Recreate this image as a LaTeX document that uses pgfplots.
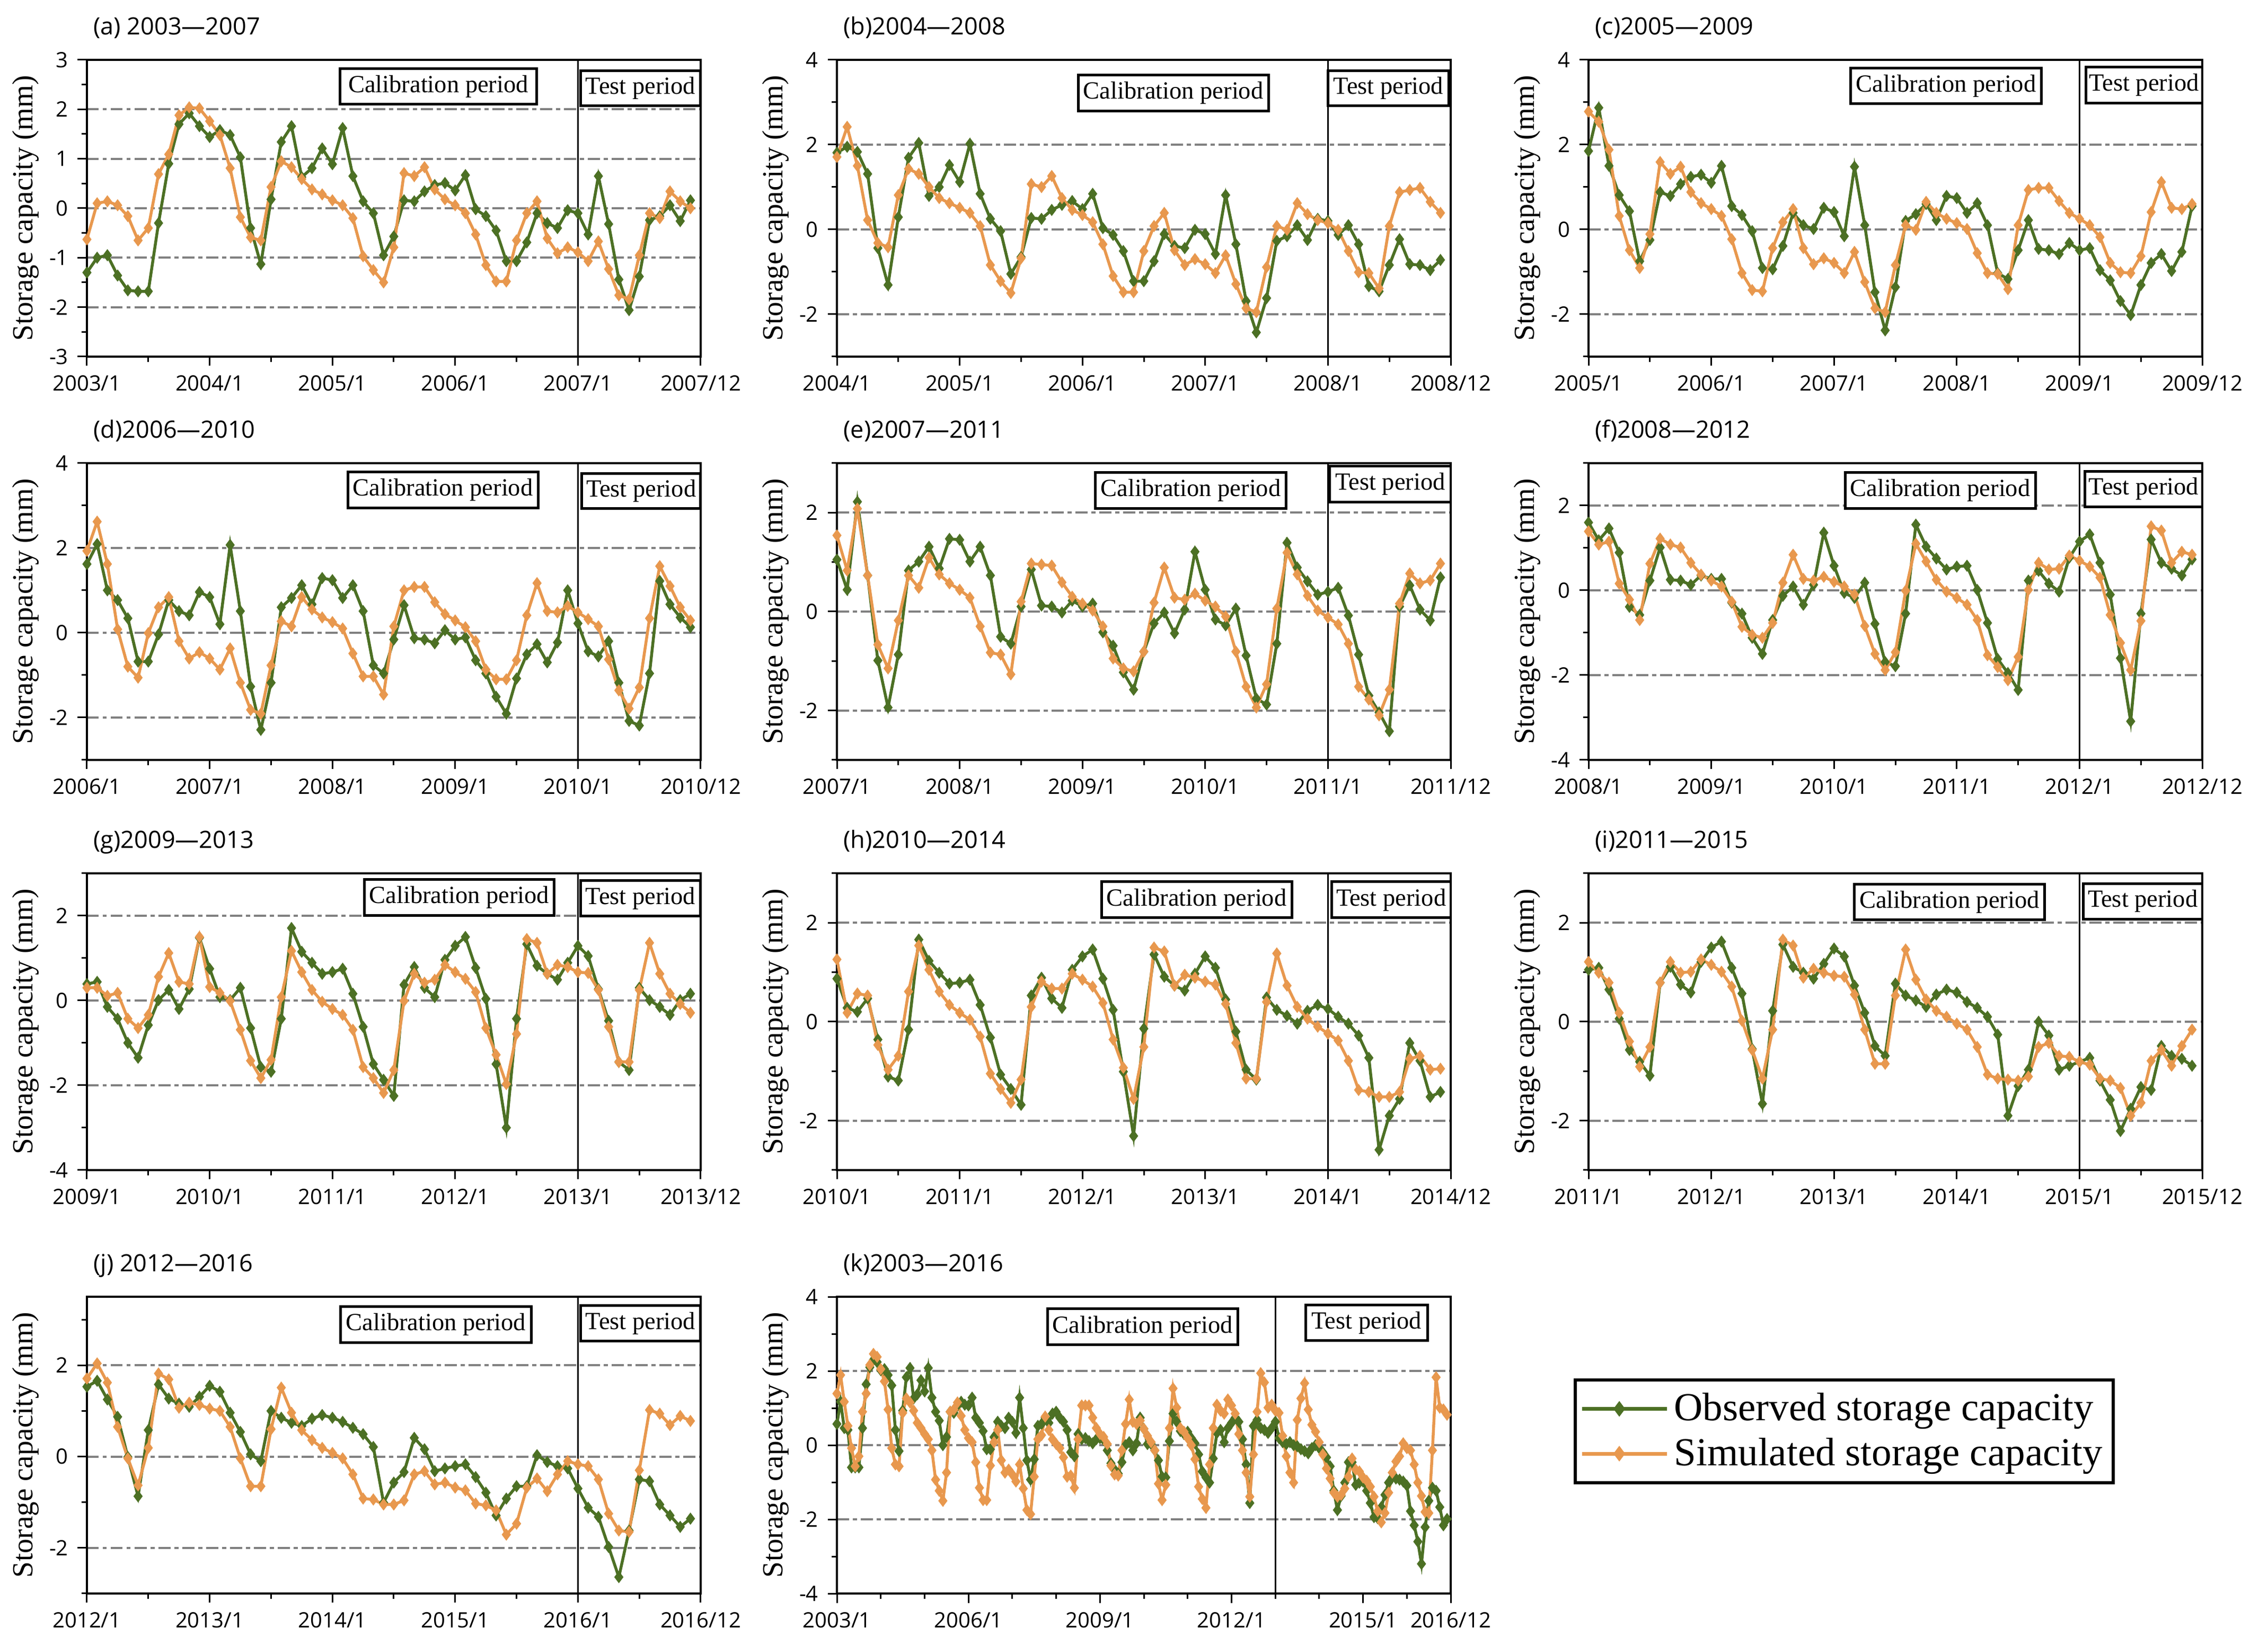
\documentclass[border=0pt]{standalone}
\usepackage{fontspec}
\setmainfont{Liberation Serif}
\newfontfamily\tickfont{Open Sans}
\usepackage{pgfplots}
\usepackage{pgfplotstable}
\pgfplotsset{compat=1.18}
\usetikzlibrary{calc}
\definecolor{obs}{RGB}{76,112,36}
\definecolor{sim}{RGB}{232,152,78}

\pgfplotstableread[row sep=\\]{o s\\
-1.30 -0.63\\ -1.00 0.10\\ -0.95 0.14\\ -1.36 0.06\\ -1.66 -0.16\\ -1.68 -0.65\\
-1.68 -0.40\\ -0.30 0.69\\ 0.90 1.09\\ 1.70 1.88\\ 1.92 2.04\\ 1.66 2.02\\
1.44 1.76\\ 1.58 1.48\\ 1.48 0.81\\ 1.03 -0.18\\ -0.40 -0.59\\ -1.13 -0.65\\
0.18 0.43\\ 1.34 0.95\\ 1.66 0.83\\ 0.63 0.59\\ 0.81 0.38\\ 1.21 0.28\\
0.89 0.16\\ 1.62 0.06\\ 0.65 -0.20\\ 0.14 -0.97\\ -0.10 -1.25\\ -0.95 -1.50\\
-0.57 -0.79\\ 0.16 0.71\\ 0.14 0.65\\ 0.34 0.83\\ 0.47 0.38\\ 0.51 0.18\\
0.36 0.06\\ 0.67 -0.10\\ -0.02 -0.53\\ -0.16 -1.15\\ -0.45 -1.48\\ -1.07 -1.48\\
-1.07 -0.65\\ -0.69 -0.10\\ -0.10 0.14\\ -0.30 -0.61\\ -0.40 -0.91\\ -0.04 -0.79\\
-0.10 -0.89\\ -0.53 -1.07\\ 0.65 -0.67\\ -0.32 -1.23\\ -1.44 -1.76\\ -2.06 -1.84\\
-1.38 -0.95\\ -0.24 -0.10\\ -0.16 -0.20\\ 0.06 0.34\\ -0.26 0.14\\ 0.16 0.00\\
}\tabA

\pgfplotstableread[row sep=\\]{o s\\
1.81 1.71\\ 1.95 2.42\\ 1.83 1.50\\ 1.31 0.22\\ -0.44 -0.32\\ -1.31 -0.42\\
0.29 0.81\\ 1.69 1.43\\ 2.04 1.31\\ 0.79 1.00\\ 1.00 0.74\\ 1.52 0.62\\
1.12 0.51\\ 2.02 0.39\\ 0.84 0.08\\ 0.25 -0.84\\ -0.04 -1.22\\ -1.05 -1.50\\
-0.65 -0.68\\ 0.27 1.07\\ 0.25 1.00\\ 0.46 1.26\\ 0.58 0.74\\ 0.67 0.46\\
0.48 0.34\\ 0.84 0.17\\ 0.03 -0.35\\ -0.13 -1.10\\ -0.51 -1.48\\ -1.22 -1.48\\
-1.22 -0.51\\ -0.75 0.08\\ -0.11 0.39\\ -0.39 -0.49\\ -0.44 -0.84\\ -0.01 -0.70\\
-0.11 -0.82\\ -0.58 -1.03\\ 0.81 -0.61\\ -0.35 -1.29\\ -1.69 -1.86\\ -2.43 -1.95\\
-1.62 -0.89\\ -0.27 0.08\\ -0.16 -0.01\\ 0.10 0.62\\ -0.25 0.36\\ 0.25 0.22\\
0.20 0.15\\ -0.13 -0.01\\ 0.10 -0.51\\ -0.35 -1.01\\ -1.34 -1.03\\ -1.46 -1.39\\
-0.84 0.08\\ -0.23 0.88\\ -0.82 0.93\\ -0.84 0.98\\ -0.96 0.65\\ -0.72 0.39\\
}\tabB

\pgfplotstableread[row sep=\\]{o s\\
1.85 2.78\\ 2.87 2.54\\ 1.50 1.88\\ 0.81 0.32\\ 0.43 -0.49\\ -0.75 -0.91\\
-0.25 -0.11\\ 0.88 1.59\\ 0.79 1.31\\ 1.07 1.48\\ 1.24 0.88\\ 1.29 0.62\\
1.10 0.48\\ 1.50 0.32\\ 0.55 -0.23\\ 0.34 -1.03\\ -0.04 -1.43\\ -0.91 -1.46\\
-0.94 -0.44\\ -0.39 0.17\\ 0.39 0.48\\ 0.10 -0.44\\ 0.01 -0.82\\ 0.51 -0.68\\
0.41 -0.79\\ -0.16 -1.03\\ 1.48 -0.53\\ 0.10 -1.24\\ -1.48 -1.86\\ -2.38 -1.95\\
-1.36 -0.84\\ 0.20 0.10\\ 0.36 -0.01\\ 0.60 0.65\\ 0.22 0.39\\ 0.79 0.25\\
0.74 0.15\\ 0.39 0.01\\ 0.62 -0.56\\ 0.10 -1.03\\ -1.03 -1.05\\ -1.17 -1.41\\
-0.49 0.10\\ 0.22 0.93\\ -0.46 0.98\\ -0.49 0.98\\ -0.58 0.67\\ -0.32 0.39\\
-0.49 0.25\\ -0.44 0.10\\ -0.96 -0.18\\ -1.20 -0.79\\ -1.69 -1.01\\ -2.02 -1.03\\
-1.31 -0.63\\ -0.79 0.41\\ -0.58 1.12\\ -0.98 0.51\\ -0.53 0.48\\ 0.55 0.60\\
}\tabC

\pgfplotstableread[row sep=\\]{o s\\
1.62 1.93\\ 2.09 2.62\\ 1.00 1.62\\ 0.77 0.08\\ 0.34 -0.80\\ -0.68 -1.06\\
-0.68 -0.01\\ -0.04 0.60\\ 0.77 0.84\\ 0.51 -0.20\\ 0.41 -0.61\\ 0.96 -0.46\\
0.84 -0.61\\ 0.20 -0.87\\ 2.07 -0.37\\ 0.51 -1.18\\ -1.27 -1.82\\ -2.29 -1.91\\
-1.18 -0.77\\ 0.60 0.27\\ 0.82 0.15\\ 1.12 0.84\\ 0.67 0.55\\ 1.29 0.36\\
1.24 0.25\\ 0.82 0.10\\ 1.12 -0.49\\ 0.51 -1.03\\ -0.77 -1.03\\ -0.96 -1.46\\
-0.16 0.15\\ 0.65 1.00\\ -0.13 1.08\\ -0.16 1.08\\ -0.25 0.72\\ 0.06 0.44\\
-0.16 0.29\\ -0.11 0.13\\ -0.65 -0.20\\ -0.96 -0.87\\ -1.51 -1.10\\ -1.91 -1.10\\
-1.08 -0.65\\ -0.51 0.41\\ -0.27 1.17\\ -0.70 0.51\\ -0.23 0.48\\ 1.00 0.63\\
0.22 0.48\\ -0.44 0.32\\ -0.56 0.15\\ -0.20 -0.63\\ -1.18 -1.36\\ -2.08 -1.79\\
-2.19 -1.29\\ -0.96 0.34\\ 1.22 1.57\\ 0.67 1.10\\ 0.36 0.60\\ 0.13 0.29\\
}\tabD

\pgfplotstableread[row sep=\\]{o s\\
1.05 1.54\\ 0.44 0.83\\ 2.22 2.08\\ 0.73 0.73\\ -0.99 -0.67\\ -1.94 -1.15\\
-0.87 -0.18\\ 0.83 0.73\\ 1.01 0.48\\ 1.31 1.09\\ 0.87 0.75\\ 1.47 0.57\\
1.45 0.44\\ 1.01 0.28\\ 1.31 -0.30\\ 0.73 -0.83\\ -0.51 -0.87\\ -0.65 -1.27\\
0.10 0.20\\ 0.85 0.97\\ 0.12 0.95\\ 0.10 0.93\\ -0.02 0.59\\ 0.22 0.30\\
0.10 0.16\\ 0.16 0.02\\ -0.42 -0.30\\ -0.69 -0.95\\ -1.23 -1.15\\ -1.58 -1.21\\
-0.81 -0.81\\ -0.24 0.18\\ -0.02 0.89\\ -0.44 0.28\\ 0.04 0.24\\ 1.21 0.36\\
0.44 0.22\\ -0.16 0.10\\ -0.28 -0.10\\ 0.06 -0.81\\ -0.89 -1.52\\ -1.76 -1.94\\
-1.88 -1.47\\ -0.65 0.06\\ 1.39 1.19\\ 0.89 0.75\\ 0.61 0.32\\ 0.34 0.02\\
0.40 -0.12\\ 0.48 -0.26\\ -0.08 -0.65\\ -0.87 -1.52\\ -1.70 -1.78\\ -2.04 -2.10\\
-2.42 -1.58\\ 0.10 0.16\\ 0.53 0.77\\ 0.04 0.57\\ -0.18 0.63\\ 0.69 0.97\\
}\tabE

\pgfplotstableread[row sep=\\]{o s\\
1.60 1.39\\ 1.18 1.08\\ 1.46 1.15\\ 0.89 0.16\\ -0.39 -0.22\\ -0.58 -0.70\\
0.23 0.63\\ 1.01 1.22\\ 0.25 1.08\\ 0.23 1.01\\ 0.13 0.65\\ 0.35 0.37\\
0.27 0.23\\ 0.27 0.09\\ -0.29 -0.27\\ -0.55 -0.86\\ -1.12 -1.05\\ -1.50 -1.12\\
-0.70 -0.77\\ -0.13 0.18\\ 0.09 0.84\\ -0.34 0.27\\ 0.13 0.23\\ 1.36 0.32\\
0.58 0.20\\ -0.06 0.09\\ -0.18 -0.10\\ 0.18 -0.84\\ -0.79 -1.50\\ -1.69 -1.88\\
-1.79 -1.46\\ -0.55 -0.01\\ 1.55 1.10\\ 1.03 0.68\\ 0.75 0.25\\ 0.49 -0.03\\
0.56 -0.18\\ 0.58 -0.34\\ 0.01 -0.70\\ -0.77 -1.53\\ -1.62 -1.81\\ -1.95 -2.12\\
-2.35 -1.57\\ 0.23 0.01\\ 0.46 0.65\\ 0.16 0.49\\ -0.03 0.51\\ 0.77 0.82\\
1.15 0.70\\ 1.32 0.56\\ 0.65 0.30\\ -0.10 -0.58\\ -1.60 -1.24\\ -3.09 -1.88\\
-0.55 -0.72\\ 1.20 1.51\\ 0.65 1.41\\ 0.51 0.65\\ 0.35 0.91\\ 0.73 0.84\\
}\tabF

\pgfplotstableread[row sep=\\]{o s\\
0.39 0.30\\ 0.44 0.30\\ -0.15 0.11\\ -0.43 0.18\\ -1.00 -0.43\\ -1.35 -0.65\\
-0.58 -0.34\\ 0.01 0.56\\ 0.25 1.12\\ -0.20 0.44\\ 0.27 0.39\\ 1.48 1.50\\
0.75 0.32\\ 0.08 0.18\\ 0.01 -0.01\\ 0.30 -0.69\\ -0.65 -1.42\\ -1.57 -1.83\\
-1.68 -1.40\\ -0.43 0.08\\ 1.71 1.17\\ 1.15 0.67\\ 0.89 0.25\\ 0.63 -0.03\\
0.67 -0.20\\ 0.75 -0.34\\ 0.16 -0.69\\ -0.62 -1.57\\ -1.50 -1.83\\ -1.87 -2.18\\
-2.25 -1.64\\ 0.37 -0.01\\ 0.79 0.63\\ 0.30 0.42\\ 0.08 0.49\\ 0.96 0.84\\
1.29 0.67\\ 1.50 0.51\\ 0.77 0.20\\ 0.04 -0.65\\ -1.50 -1.28\\ -3.00 -1.97\\
-0.43 -0.79\\ 1.33 1.45\\ 0.82 1.36\\ 0.63 0.63\\ 0.49 0.84\\ 0.89 0.79\\
1.29 0.67\\ 1.05 0.65\\ 0.27 0.25\\ -0.48 -0.62\\ -1.45 -1.45\\ -1.64 -1.45\\
0.30 0.25\\ 0.01 1.36\\ -0.15 0.63\\ -0.34 0.16\\ 0.01 -0.08\\ 0.16 -0.29\\
}\tabG

\pgfplotstableread[row sep=\\]{o s\\
0.87 1.26\\ 0.28 0.18\\ 0.20 0.57\\ 0.47 0.53\\ -0.36 -0.47\\ -1.11 -0.97\\
-1.19 -0.69\\ -0.16 0.61\\ 1.66 1.54\\ 1.23 1.05\\ 0.99 0.61\\ 0.77 0.34\\
0.79 0.18\\ 0.85 0.04\\ 0.34 -0.30\\ -0.32 -1.05\\ -1.07 -1.36\\ -1.36 -1.64\\
-1.68 -1.17\\ 0.53 0.30\\ 0.89 0.81\\ 0.47 0.67\\ 0.28 0.67\\ 1.05 0.97\\
1.32 0.85\\ 1.46 0.71\\ 0.87 0.38\\ 0.24 -0.36\\ -1.01 -0.93\\ -2.31 -1.56\\
-0.14 -0.51\\ 1.36 1.50\\ 0.91 1.42\\ 0.73 0.73\\ 0.63 0.95\\ 0.97 0.89\\
1.32 0.81\\ 1.09 0.75\\ 0.45 0.36\\ -0.20 -0.43\\ -0.97 -1.15\\ -1.17 -1.15\\
0.49 0.40\\ 0.24 1.38\\ 0.12 0.73\\ -0.04 0.30\\ 0.22 0.06\\ 0.34 -0.10\\
0.26 -0.24\\ 0.10 -0.38\\ -0.04 -0.79\\ -0.28 -1.38\\ -0.73 -1.42\\ -2.59 -1.52\\
-1.90 -1.52\\ -1.56 -1.42\\ -0.43 -0.75\\ -0.79 -0.69\\ -1.52 -0.97\\ -1.42 -0.95\\
}\tabH

\pgfplotstableread[row sep=\\]{o s\\
1.05 1.21\\ 1.09 0.99\\ 0.65 0.79\\ 0.06 0.18\\ -0.57 -0.40\\ -0.81 -0.91\\
-1.09 -0.51\\ 0.79 0.79\\ 1.11 1.21\\ 0.75 0.99\\ 0.59 1.01\\ 1.21 1.26\\
1.50 1.15\\ 1.62 1.01\\ 1.09 0.71\\ 0.57 0.02\\ -0.55 -0.57\\ -1.66 -1.15\\
0.22 -0.16\\ 1.56 1.66\\ 1.11 1.54\\ 0.99 0.89\\ 0.87 1.07\\ 1.17 0.99\\
1.48 0.93\\ 1.32 0.91\\ 0.73 0.55\\ 0.18 -0.16\\ -0.49 -0.85\\ -0.69 -0.85\\
0.77 0.53\\ 0.53 1.46\\ 0.43 0.85\\ 0.30 0.45\\ 0.55 0.22\\ 0.65 0.10\\
0.59 -0.04\\ 0.40 -0.16\\ 0.28 -0.51\\ 0.10 -1.07\\ -0.26 -1.15\\ -1.90 -1.17\\
-1.30 -1.19\\ -0.97 -1.11\\ 0.00 -0.51\\ -0.28 -0.43\\ -0.97 -0.69\\ -0.89 -0.71\\
-0.81 -0.81\\ -0.73 -0.87\\ -1.19 -1.15\\ -1.58 -1.19\\ -2.21 -1.34\\ -1.76 -1.90\\
-1.32 -1.64\\ -1.38 -0.79\\ -0.49 -0.57\\ -0.69 -0.89\\ -0.75 -0.49\\ -0.89 -0.16\\
}\tabI

\pgfplotstableread[row sep=\\]{o s\\
1.53 1.71\\ 1.66 2.04\\ 1.25 1.62\\ 0.87 0.65\\ -0.01 -0.04\\ -0.87 -0.63\\
0.58 0.19\\ 1.58 1.82\\ 1.27 1.69\\ 1.16 1.07\\ 1.09 1.18\\ 1.31 1.13\\
1.55 1.05\\ 1.42 1.00\\ 0.96 0.65\\ 0.54 -0.04\\ 0.05 -0.65\\ -0.10 -0.65\\
1.00 0.60\\ 0.85 1.51\\ 0.74 0.96\\ 0.67 0.58\\ 0.83 0.36\\ 0.91 0.19\\
0.85 0.08\\ 0.76 -0.04\\ 0.63 -0.39\\ 0.49 -0.92\\ 0.21 -0.94\\ -1.01 -1.05\\
-0.57 -1.05\\ -0.34 -0.96\\ 0.41 -0.39\\ 0.16 -0.32\\ -0.32 -0.61\\ -0.26 -0.57\\
-0.21 -0.68\\ -0.17 -0.74\\ -0.45 -1.03\\ -0.79 -1.07\\ -1.29 -1.18\\ -0.92 -1.71\\
-0.65 -1.47\\ -0.65 -0.68\\ 0.03 -0.48\\ -0.12 -0.76\\ -0.21 -0.39\\ -0.26 -0.10\\
-0.70 -0.17\\ -1.12 -0.21\\ -1.32 -0.50\\ -1.98 -1.25\\ -2.64 -1.62\\ -1.62 -1.65\\
-0.50 -0.30\\ -0.54 1.02\\ -1.05 0.94\\ -1.29 0.69\\ -1.54 0.89\\ -1.36 0.78\\
}\tabJ

\pgfplotstableread[row sep=\\]{o s\\
0.57 1.39\\ 1.17 1.89\\ 0.46 1.17\\ 0.41 0.52\\ -0.60 -0.08\\ -0.60 -0.57\\
-0.60 -0.30\\ 0.46 0.90\\ 1.64 1.39\\ 2.10 2.16\\ 2.30 2.46\\ 2.24 2.38\\
2.02 2.05\\ 2.05 1.72\\ 1.89 0.96\\ 1.61 -0.08\\ 0.41 -0.52\\ -0.16 -0.57\\
0.93 0.87\\ 1.83 1.26\\ 2.08 1.15\\ 1.26 0.93\\ 1.37 0.60\\ 1.75 0.46\\
1.45 0.30\\ 2.08 0.16\\ 1.28 -0.14\\ 0.90 -0.93\\ 0.66 -1.23\\ 0.00 -1.50\\
0.22 -0.74\\ 0.90 0.90\\ 0.87 0.96\\ 1.07 1.15\\ 1.17 0.79\\ 1.09 0.41\\
1.07 0.19\\ 1.28 0.08\\ 0.74 -0.46\\ 0.60 -1.15\\ 0.38 -1.48\\ -0.11 -1.48\\
-0.11 -0.55\\ 0.22 0.08\\ 0.63 0.41\\ 0.52 -0.41\\ 0.46 -0.74\\ 0.74 -0.66\\
0.63 -0.79\\ 0.33 -0.98\\ 1.28 -0.52\\ 0.46 -1.17\\ -0.41 -1.75\\ -0.93 -1.86\\
-0.38 -0.85\\ 0.52 0.16\\ 0.57 0.27\\ 0.74 0.77\\ 0.60 0.41\\ 0.85 0.16\\
0.90 0.03\\ 0.74 -0.08\\ 0.63 -0.33\\ 0.41 -0.85\\ -0.19 -0.82\\ -0.30 -1.15\\
0.30 0.16\\ 0.16 1.07\\ 0.19 1.07\\ 0.11 1.07\\ 0.05 0.74\\ 0.16 0.46\\
0.19 0.30\\ 0.14 0.22\\ -0.14 0.03\\ -0.49 -0.55\\ -0.66 -0.79\\ -0.77 -0.82\\
-0.46 -0.14\\ 0.00 0.57\\ 0.08 1.23\\ -0.14 0.63\\ 0.05 0.57\\ 0.74 0.66\\
0.44 0.44\\ 0.03 0.25\\ 0.03 0.08\\ -0.14 -0.14\\ -0.41 -1.04\\ -0.85 -1.48\\
-0.87 -1.07\\ 0.11 0.46\\ 0.85 1.53\\ 0.63 1.01\\ 0.38 0.46\\ 0.30 0.36\\
0.36 0.19\\ 0.19 0.00\\ 0.05 -0.38\\ -0.25 -1.12\\ -0.71 -1.45\\ -0.87 -1.69\\
-1.01 -0.52\\ -0.36 0.46\\ 0.33 1.09\\ 0.41 0.93\\ 0.08 0.85\\ 0.46 1.23\\
0.60 1.07\\ 0.74 0.85\\ 0.63 0.30\\ 0.16 -0.14\\ -0.52 -0.74\\ -1.56 -1.39\\
0.52 -0.25\\ 0.68 0.90\\ 0.46 1.94\\ 0.41 1.69\\ 0.33 1.01\\ 0.46 1.09\\
0.63 0.93\\ 0.19 0.87\\ 0.08 0.25\\ 0.03 -0.30\\ 0.08 -0.74\\ 0.00 -1.01\\
-0.03 0.68\\ -0.11 1.26\\ -0.16 1.67\\ -0.22 0.96\\ -0.08 0.55\\ 0.00 0.36\\
-0.08 0.08\\ -0.19 -0.25\\ -0.33 -0.63\\ -0.57 -0.90\\ -1.23 -1.28\\ -1.75 -1.39\\
-1.37 -1.34\\ -1.01 -1.17\\ -0.46 -0.85\\ -0.46 -0.36\\ -1.07 -0.66\\ -1.01 -0.71\\
-0.98 -0.87\\ -1.23 -0.96\\ -1.56 -1.12\\ -1.94 -1.39\\ -1.97 -1.78\\ -1.67 -2.08\\
-1.34 -1.83\\ -1.01 -1.28\\ -0.87 -0.74\\ -0.90 -0.44\\ -0.93 -0.30\\ -0.98 0.05\\
-1.09 -0.08\\ -1.78 -0.14\\ -2.16 -0.52\\ -2.60 -1.01\\ -3.20 -1.37\\ -2.21 -1.80\\
-1.50 -1.83\\ -1.15 -0.14\\ -1.23 1.83\\ -1.67 1.01\\ -2.16 0.96\\ -1.99 0.82\\
}\tabK

\pgfplotsset{
 panel/.style={
   scale only axis, width=231.6pt, height=112pt,
   anchor=north west,
   xmin=0, xmax=60,
   xtick={0,12,24,36,48,60},
   minor x tick num=1,
   tick align=outside, xtick pos=bottom, ytick pos=left,
   major tick length=3.5pt, minor tick length=2pt,
   every tick/.style={black, line width=0.6pt},
   axis line style={line width=0.9pt},
   ymajorgrids,
   major grid style={gray, line width=0.8pt, dash pattern=on 4.5pt off 1.5pt on 1.5pt off 1.5pt},
   ticklabel style={font=\tickfont\fontsize{8}{9}\selectfont},
   /pgf/number format/assume math mode=true,
   ylabel={Storage capacity (mm)},
   ylabel style={at={(axis description cs:-0.1,0.5)}, anchor=center, font=\fontsize{11}{12}\selectfont},
   every axis title/.style={at={(axis description cs:0.01,1)}, anchor=base west, yshift=9.5pt, font=\tickfont\fontsize{9}{10}\selectfont, inner sep=0pt},
   every axis plot/.append style={line width=1.1pt, mark=diamond*, mark size=1.4pt, mark options={solid}},
 },
 obsstyle/.style={color=obs},
 simstyle/.style={color=sim},
}

\newcommand{\pbox}[5]{%
  \draw[line width=1pt, fill=white] (rel axis cs:#1,#3) rectangle (rel axis cs:#2,#4);
  \node[font=\fontsize{9.3}{10}\selectfont, inner sep=0pt] at ($(rel axis cs:#1,#3)!0.5!(rel axis cs:#2,#4)$) {#5};}

\newcommand{\sep}[1]{\draw[line width=0.6pt] (rel axis cs:#1,0) -- (rel axis cs:#1,1);}

\begin{document}
\begin{tikzpicture}
\useasboundingbox (0,0) rectangle (855.8pt,621pt);

% (a)
\begin{axis}[panel, at={(32.8pt,598.4pt)}, ymin=-3, ymax=3, ytick={-3,-2,...,3}, minor ytick={-2.5,-1.5,...,2.5},
  xticklabels={2003/1,2004/1,2005/1,2006/1,2007/1,2007/12}, title={(a) 2003—2007}]
\addplot[obsstyle] table[x expr=\coordindex, y=o]{\tabA};
\addplot[simstyle] table[x expr=\coordindex, y=s]{\tabA};
\sep{0.8}
\pbox{0.412}{0.733}{0.970}{0.850}{Calibration period}
\pbox{0.804}{1.0}{0.963}{0.845}{Test period}
\end{axis}

% (b)
\begin{axis}[panel, at={(315.8pt,598.4pt)}, ymin=-3, ymax=4, ytick={-2,0,2,4}, minor ytick={-3,-1,1,3},
  xticklabels={2004/1,2005/1,2006/1,2007/1,2008/1,2008/12}, title={(b)2004—2008}]
\addplot[obsstyle] table[x expr=\coordindex, y=o]{\tabB};
\addplot[simstyle] table[x expr=\coordindex, y=s]{\tabB};
\sep{0.8}
\pbox{0.393}{0.703}{0.949}{0.827}{Calibration period}
\pbox{0.800}{0.997}{0.964}{0.846}{Test period}
\end{axis}

% (c)
\begin{axis}[panel, at={(599.4pt,598.4pt)}, ymin=-3, ymax=4, ytick={-2,0,2,4}, minor ytick={-3,-1,1,3},
  xticklabels={2005/1,2006/1,2007/1,2008/1,2009/1,2009/12}, title={(c)2005—2009}]
\addplot[obsstyle] table[x expr=\coordindex, y=o]{\tabC};
\addplot[simstyle] table[x expr=\coordindex, y=s]{\tabC};
\sep{0.8}
\pbox{0.427}{0.738}{0.973}{0.852}{Calibration period}
\pbox{0.810}{1.0}{0.976}{0.854}{Test period}
\end{axis}

% (d)
\begin{axis}[panel, at={(32.8pt,446.2pt)}, ymin=-3, ymax=4, ytick={-2,0,2,4}, minor ytick={-3,-1,1,3},
  xticklabels={2006/1,2007/1,2008/1,2009/1,2010/1,2010/12}, title={(d)2006—2010}]
\addplot[obsstyle] table[x expr=\coordindex, y=o]{\tabD};
\addplot[simstyle] table[x expr=\coordindex, y=s]{\tabD};
\sep{0.8}
\pbox{0.425}{0.735}{0.971}{0.849}{Calibration period}
\pbox{0.806}{1.0}{0.966}{0.847}{Test period}
\end{axis}

% (e)
\begin{axis}[panel, at={(315.8pt,446.2pt)}, ymin=-3, ymax=3, ytick={-2,0,2}, minor ytick={-3,-1,1,3},
  xticklabels={2007/1,2008/1,2009/1,2010/1,2011/1,2011/12}, title={(e)2007—2011}]
\addplot[obsstyle] table[x expr=\coordindex, y=o]{\tabE};
\addplot[simstyle] table[x expr=\coordindex, y=s]{\tabE};
\sep{0.8}
\pbox{0.421}{0.732}{0.969}{0.848}{Calibration period}
\pbox{0.803}{1.0}{0.990}{0.869}{Test period}
\end{axis}

% (f)
\begin{axis}[panel, at={(599.4pt,446.2pt)}, ymin=-4, ymax=3, ytick={-4,-2,0,2}, minor ytick={-3,-1,1,3},
  xticklabels={2008/1,2009/1,2010/1,2011/1,2012/1,2012/12}, title={(f)2008—2012}]
\addplot[obsstyle] table[x expr=\coordindex, y=o]{\tabF};
\addplot[simstyle] table[x expr=\coordindex, y=s]{\tabF};
\sep{0.8}
\pbox{0.418}{0.728}{0.968}{0.847}{Calibration period}
\pbox{0.809}{1.0}{0.973}{0.853}{Test period}
\end{axis}

% (g)
\begin{axis}[panel, at={(32.8pt,291.4pt)}, ymin=-4, ymax=3, ytick={-4,-2,0,2}, minor ytick={-3,-1,1,3},
  xticklabels={2009/1,2010/1,2011/1,2012/1,2013/1,2013/12}, title={(g)2009—2013}]
\addplot[obsstyle] table[x expr=\coordindex, y=o]{\tabG};
\addplot[simstyle] table[x expr=\coordindex, y=s]{\tabG};
\sep{0.8}
\pbox{0.452}{0.761}{0.979}{0.858}{Calibration period}
\pbox{0.804}{1.0}{0.976}{0.856}{Test period}
\end{axis}

% (h)
\begin{axis}[panel, at={(315.8pt,291.4pt)}, ymin=-3, ymax=3, ytick={-2,0,2}, minor ytick={-3,-1,1,3},
  xticklabels={2010/1,2011/1,2012/1,2013/1,2014/1,2014/12}, title={(h)2010—2014}]
\addplot[obsstyle] table[x expr=\coordindex, y=o]{\tabH};
\addplot[simstyle] table[x expr=\coordindex, y=s]{\tabH};
\sep{0.8}
\pbox{0.431}{0.741}{0.972}{0.850}{Calibration period}
\pbox{0.806}{1.0}{0.972}{0.850}{Test period}
\end{axis}

% (i)
\begin{axis}[panel, at={(599.4pt,291.4pt)}, ymin=-3, ymax=3, ytick={-2,0,2}, minor ytick={-3,-1,1,3},
  xticklabels={2011/1,2012/1,2013/1,2014/1,2015/1,2015/12}, title={(i)2011—2015}]
\addplot[obsstyle] table[x expr=\coordindex, y=o]{\tabI};
\addplot[simstyle] table[x expr=\coordindex, y=s]{\tabI};
\sep{0.8}
\pbox{0.433}{0.743}{0.964}{0.843}{Calibration period}
\pbox{0.806}{1.0}{0.966}{0.846}{Test period}
\end{axis}

% (j)
\begin{axis}[panel, at={(32.8pt,131.6pt)}, ymin=-3, ymax=3.5, ytick={-2,0,2}, minor ytick={-3,-1,1,3},
  xticklabels={2012/1,2013/1,2014/1,2015/1,2016/1,2016/12}, title={(j) 2012—2016}]
\addplot[obsstyle] table[x expr=\coordindex, y=o]{\tabJ};
\addplot[simstyle] table[x expr=\coordindex, y=s]{\tabJ};
\sep{0.8}
\pbox{0.413}{0.724}{0.967}{0.846}{Calibration period}
\pbox{0.804}{1.0}{0.971}{0.850}{Test period}
\end{axis}

% (k)
\begin{axis}[panel, at={(315.8pt,131.6pt)}, ymin=-4, ymax=4, ytick={-4,-2,...,4}, minor ytick={-3,-1,1,3},
  xmax=168, xtick={0,36,72,108,144,168}, minor x tick num=0, minor xtick={12,24,48,60,84,96,120,132,156},
  xticklabels={2003/1,2006/1,2009/1,2012/1,2015/1,2016/12}, title={(k)2003—2016},
  legend cell align=left,
  legend style={at={(1.2,0.7255)}, anchor=north west, draw=black, line width=1.2pt,
     font=\fontsize{15}{17}\selectfont, inner xsep=2pt, inner ysep=3pt, row sep=1pt},
  legend image code/.code={\draw[mark repeat=2, mark phase=2, line width=1.4pt, mark size=1.8pt] plot coordinates {(0pt,0pt) (14pt,0pt) (32pt,0pt)};}]
\addplot[obsstyle] table[x expr=\coordindex, y=o]{\tabK};
\addlegendentry{Observed storage capacity}
\addplot[simstyle] table[x expr=\coordindex, y=s]{\tabK};
\addlegendentry{Simulated storage capacity}
\sep{0.7143}
\pbox{0.343}{0.653}{0.959}{0.838}{Calibration period}
\pbox{0.764}{0.962}{0.973}{0.852}{Test period}
\end{axis}

\end{tikzpicture}
\end{document}
